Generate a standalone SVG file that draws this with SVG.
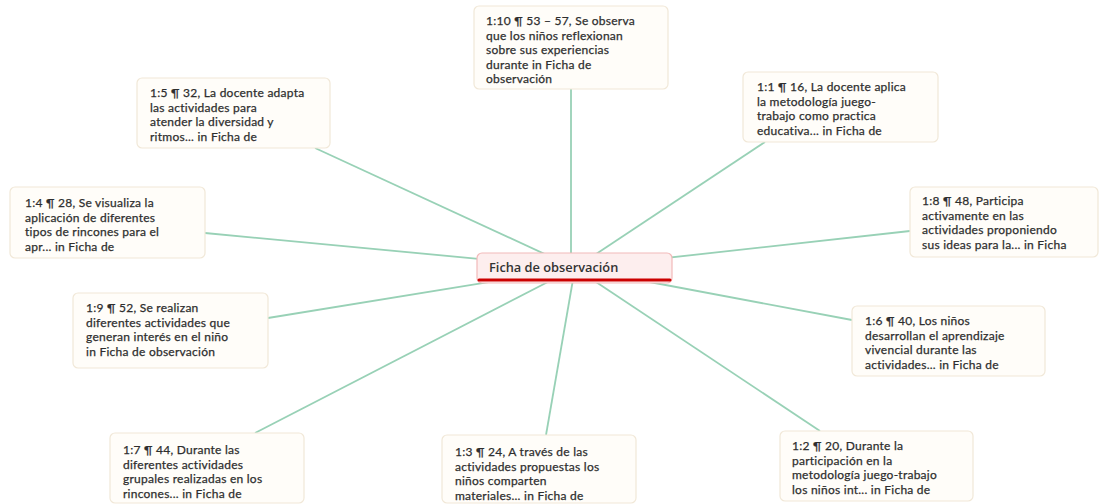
<svg xmlns="http://www.w3.org/2000/svg" width="1099" height="504" viewBox="0 0 1099 504">
<style>
.box{fill:#fffdf9;stroke:#f1e8d8;stroke-width:1.2}
.t{font-family:Lato,"Open Sans",sans-serif;font-size:12px;letter-spacing:0.25px;fill:#2e2e2e;stroke:#2e2e2e;stroke-width:0.25}
.c{stroke:#98d1b6;stroke-width:1.8;fill:none}
</style>
<rect width="1099" height="504" fill="#ffffff"/>
<g id="connectors">
<line class="c" x1="571" y1="268" x2="571" y2="89"/>
<line class="c" x1="575" y1="268" x2="315" y2="148"/>
<line class="c" x1="575" y1="268" x2="765" y2="142"/>
<line class="c" x1="575" y1="268" x2="205" y2="233"/>
<line class="c" x1="575" y1="268" x2="910" y2="231"/>
<line class="c" x1="575" y1="268" x2="268" y2="318"/>
<line class="c" x1="575" y1="268" x2="852" y2="320"/>
<line class="c" x1="575" y1="268" x2="255" y2="433"/>
<line class="c" x1="575" y1="268" x2="546" y2="435"/>
<line class="c" x1="575" y1="268" x2="820" y2="431"/>
</g>
<g id="center">
<rect x="477" y="253" width="195" height="30" rx="5" fill="#fdeeee" stroke="#f2b9b9" stroke-width="1.2"/>
<path d="M479 280 H670" stroke="#cc0000" stroke-width="3" stroke-linecap="round"/>
<text x="489" y="272" font-family="'Open Sans','Noto Sans',sans-serif" font-size="12.8px" font-weight="600" fill="#333">Ficha de observación</text>
</g>
<g id="n110">
<rect class="box" x="474" y="6" width="194" height="83" rx="5"/>
<text class="t" y="25"><tspan x="486">1:10 ¶ 53 – 57, Se observa</tspan><tspan x="486" dy="14.5">que los niños reflexionan</tspan><tspan x="486" dy="14.5">sobre sus experiencias</tspan><tspan x="486" dy="14.5">durante in Ficha de</tspan><tspan x="486" dy="14.5">observación</tspan></text>
</g>
<g id="n15">
<rect class="box" x="137" y="78" width="193" height="70" rx="5"/>
<text class="t" y="97"><tspan x="150">1:5 ¶ 32, La docente adapta</tspan><tspan x="150" dy="14.5">las actividades para</tspan><tspan x="150" dy="14.5">atender la diversidad y</tspan><tspan x="150" dy="14.5">ritmos... in Ficha de</tspan></text>
</g>
<g id="n11">
<rect class="box" x="743" y="72" width="195" height="70" rx="5"/>
<text class="t" y="91"><tspan x="757">1:1 ¶ 16, La docente aplica</tspan><tspan x="757" dy="14.5">la metodología juego-</tspan><tspan x="757" dy="14.5">trabajo como practica</tspan><tspan x="757" dy="14.5">educativa... in Ficha de</tspan></text>
</g>
<g id="n14">
<rect class="box" x="10" y="187" width="195" height="71" rx="5"/>
<text class="t" y="207"><tspan x="25">1:4 ¶ 28, Se visualiza la</tspan><tspan x="25" dy="14.5">aplicación de diferentes</tspan><tspan x="25" dy="14.5">tipos de rincones para el</tspan><tspan x="25" dy="14.5">apr... in Ficha de</tspan></text>
</g>
<g id="n18">
<rect class="box" x="910" y="187" width="188" height="70" rx="5"/>
<text class="t" y="205"><tspan x="922">1:8 ¶ 48, Participa</tspan><tspan x="922" dy="14.5">activamente en las</tspan><tspan x="922" dy="14.5">actividades proponiendo</tspan><tspan x="922" dy="14.5">sus ideas para la... in Ficha</tspan></text>
</g>
<g id="n19">
<rect class="box" x="73" y="293" width="195" height="75" rx="5"/>
<text class="t" y="312"><tspan x="86">1:9 ¶ 52, Se realizan</tspan><tspan x="86" dy="14.5">diferentes actividades que</tspan><tspan x="86" dy="14.5">generan interés en el niño</tspan><tspan x="86" dy="14.5">in Ficha de observación</tspan></text>
</g>
<g id="n16">
<rect class="box" x="852" y="306" width="193" height="70" rx="5"/>
<text class="t" y="325"><tspan x="865">1:6 ¶ 40, Los niños</tspan><tspan x="865" dy="14.5">desarrollan el aprendizaje</tspan><tspan x="865" dy="14.5">vivencial durante las</tspan><tspan x="865" dy="14.5">actividades... in Ficha de</tspan></text>
</g>
<g id="n17">
<rect class="box" x="110" y="433" width="194" height="70" rx="5"/>
<text class="t" y="454"><tspan x="123">1:7 ¶ 44, Durante las</tspan><tspan x="123" dy="14.5">diferentes actividades</tspan><tspan x="123" dy="14.5">grupales realizadas en los</tspan><tspan x="123" dy="14.5">rincones... in Ficha de</tspan></text>
</g>
<g id="n13">
<rect class="box" x="442" y="435" width="194" height="68" rx="5"/>
<text class="t" y="456"><tspan x="455">1:3 ¶ 24, A través de las</tspan><tspan x="455" dy="14.5">actividades propuestas los</tspan><tspan x="455" dy="14.5">niños comparten</tspan><tspan x="455" dy="14.5">materiales... in Ficha de</tspan></text>
</g>
<g id="n12">
<rect class="box" x="780" y="431" width="193" height="70" rx="5"/>
<text class="t" y="450"><tspan x="792">1:2 ¶ 20, Durante la</tspan><tspan x="792" dy="14.5">participación en la</tspan><tspan x="792" dy="14.5">metodología juego-trabajo</tspan><tspan x="792" dy="14.5">los niños int... in Ficha de</tspan></text>
</g>
</svg>
